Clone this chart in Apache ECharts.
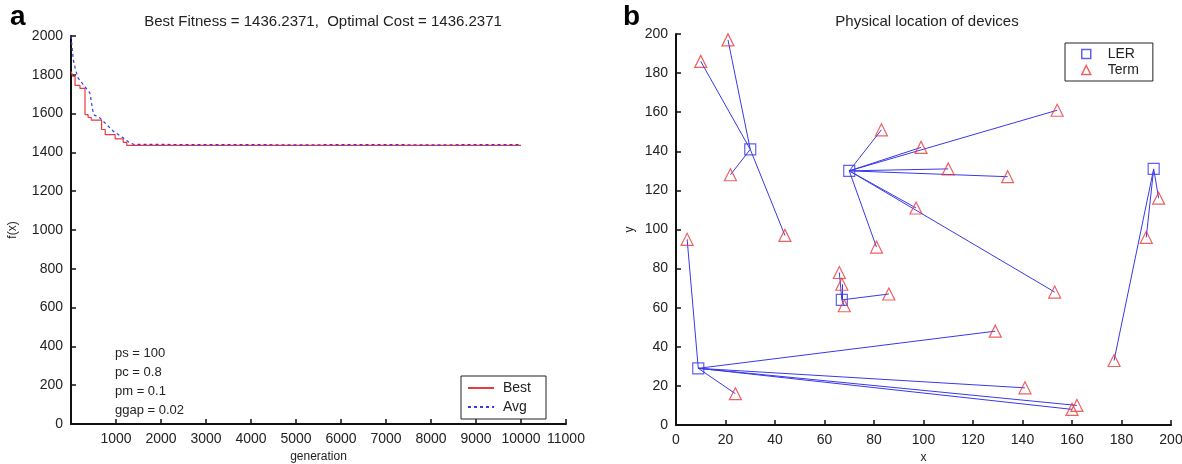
<!DOCTYPE html>
<html>
<head>
<meta charset="utf-8">
<script src="https://cdn.jsdelivr.net/npm/echarts@6/dist/echarts.min.js"></script>
<style>
  html, body { margin: 0; padding: 0; background: #fff; }
  #main { width: 1182px; height: 464px; }
</style>
</head>
<body>
<div id="main"></div>
<script>
// (a) GA convergence: [generation, f(x)]
var bestData = [
  [0, 1817], [40, 1792], [90, 1745], [200, 1730], [311, 1595], [380, 1580],
  [450, 1566], [680, 1518], [760, 1492], [980, 1470], [1160, 1452], [1240, 1436],
  [10000, 1436]
]
var avgData = [
  [0, 2000], [50, 1880], [100, 1826], [160, 1783], [270, 1750], [420, 1706],
  [500, 1595], [640, 1578], [790, 1544], [940, 1509], [1160, 1475], [1300, 1450],
  [1400, 1441], [2000, 1441], [3000, 1440], [4000, 1440], [5000, 1439], [6000, 1440],
  [7000, 1440], [8000, 1439], [9000, 1440], [10000, 1440]
]
var paramText = ['ps = 100', 'pc = 0.8', 'pm = 0.1', 'ggap = 0.02']

// (b) device positions
var lerX = [30, 70, 193, 67, 9]
var lerY = [141, 130, 131, 64, 29]
var termX = [10, 21, 22, 44, 83, 99, 154, 110, 134, 97, 81, 153, 195, 190, 177, 66, 67, 68, 86, 4.5, 24, 129, 141, 160, 162]
var termY = [186, 197, 128, 97, 151, 142, 161, 131, 127, 111, 91, 68, 116, 96, 33, 78, 72, 61, 67, 95, 16, 48, 19, 8, 10]
// index of the LER each terminal is linked to
var termLer = [0, 0, 0, 0, 1, 1, 1, 1, 1, 1, 1, 1, 2, 2, 2, 3, 3, 3, 3, 4, 4, 4, 4, 4, 4]

var blue = '#3838ea'
var red = '#e83a3c'
var font = 'Liberation Sans, Arial, sans-serif'
var txt = '#222'

var lerPts = lerX.map(function (x, i) { return [x, lerY[i]] })
var termPts = termX.map(function (x, i) { return [x, termY[i]] })
var links = termPts.map(function (p, i) {
  return { coords: [lerPts[termLer[i]], p] }
})

function axis (opt, hideZero) {
  var a = {
    type: 'value',
    splitLine: { show: false },
    axisLine: { show: true, onZero: false, lineStyle: { color: '#111', width: 2 } },
    axisTick: { show: true, inside: true, length: 5, lineStyle: { color: '#111', width: 1.5 } },
    axisLabel: {
      color: txt, fontSize: 14, fontFamily: font, margin: 8,
      formatter: function (v) { return hideZero && v === 0 ? '' : String(v) }
    },
    nameTextStyle: { color: txt, fontSize: 12, fontFamily: font }
  }
  for (var k in opt) a[k] = opt[k]
  return a
}

var chart = echarts.init(document.getElementById('main'))
chart.setOption({
  animation: false,
  title: [
    { text: 'Best Fitness = 1436.2371,  Optimal Cost = 1436.2371', left: 318, top: 9, textAlign: 'center',
      textStyle: { fontSize: 15, fontWeight: 'normal', color: txt, fontFamily: font } },
    { text: 'Physical location of devices', left: 922, top: 9, textAlign: 'center',
      textStyle: { fontSize: 15, fontWeight: 'normal', color: txt, fontFamily: font } }
  ],
  grid: [
    { left: 71, top: 36, width: 495, height: 388, containLabel: false, outerBoundsMode: 'none' },
    { left: 676, top: 34, width: 495, height: 391, containLabel: false, outerBoundsMode: 'none' }
  ],
  xAxis: [
    axis({ gridIndex: 0, min: 0, max: 11000, interval: 1000, name: 'generation', nameLocation: 'middle', nameGap: 25 }, true),
    axis({ gridIndex: 1, min: 0, max: 200, interval: 20, name: 'x', nameLocation: 'middle', nameGap: 25 })
  ],
  yAxis: [
    axis({ gridIndex: 0, min: 0, max: 2000, interval: 200, name: 'f(x)', nameLocation: 'middle', nameGap: 52 }),
    axis({ gridIndex: 1, min: 0, max: 200, interval: 20, name: 'y', nameLocation: 'middle', nameGap: 40 })
  ],
  legend: [
    { orient: 'vertical', left: 461, top: 376, data: ['Best', 'Avg'], itemWidth: 26, itemHeight: 10, itemGap: 5,
      padding: [5, 15, 5, 6], borderColor: '#222', borderWidth: 1, backgroundColor: '#fff',
      itemStyle: { opacity: 0 },
      textStyle: { fontSize: 14, color: txt, fontFamily: font, padding: [0, 0, 0, 4] } },
    { orient: 'vertical', left: 1065, top: 43, itemWidth: 9, itemHeight: 9, itemGap: 2,
      padding: [4, 14, 4, 16], borderColor: '#222', borderWidth: 1, backgroundColor: '#fff',
      textStyle: { fontSize: 14, color: txt, fontFamily: font, padding: [0, 0, 0, 12] },
      data: [
        { name: 'LER', icon: 'rect', itemStyle: { color: 'rgba(0,0,0,0)', borderColor: blue, borderWidth: 1.5 } },
        { name: 'Term', icon: 'triangle', itemStyle: { color: 'rgba(0,0,0,0)', borderColor: red, borderWidth: 1.5 } }
      ] }
  ],
  graphic: [
    { type: 'text', left: 10, top: 3, style: { text: 'a', font: 'bold 28px ' + font, fill: '#000' } },
    { type: 'text', left: 623, top: 3, style: { text: 'b', font: 'bold 28px ' + font, fill: '#000' } },
    { type: 'text', left: 115, top: 344, style: { text: paramText.join('\n'), font: '13px ' + font, fill: txt, lineHeight: 19 } }
  ],
  series: [
    { name: 'Best', type: 'line', xAxisIndex: 0, yAxisIndex: 0, step: 'end', symbol: 'none', data: bestData,
      lineStyle: { color: red, width: 1.2 }, itemStyle: { color: red } },
    { name: 'Avg', type: 'line', xAxisIndex: 0, yAxisIndex: 0, symbol: 'none', data: avgData,
      lineStyle: { color: blue, width: 1.2, type: [3, 3] }, itemStyle: { color: blue } },
    { name: 'links', type: 'lines', coordinateSystem: 'cartesian2d', xAxisIndex: 1, yAxisIndex: 1, data: links,
      lineStyle: { color: blue, width: 1, opacity: 1 }, silent: true },
    { name: 'LER', type: 'scatter', xAxisIndex: 1, yAxisIndex: 1, symbol: 'rect', symbolSize: 11, data: lerPts,
      itemStyle: { color: 'rgba(0,0,0,0)', borderColor: blue, borderWidth: 1.2 } },
    { name: 'Term', type: 'scatter', xAxisIndex: 1, yAxisIndex: 1, symbol: 'triangle', symbolSize: 12, data: termPts,
      itemStyle: { color: 'rgba(0,0,0,0)', borderColor: red, borderWidth: 1.2 } }
  ]
})
</script>
</body>
</html>
